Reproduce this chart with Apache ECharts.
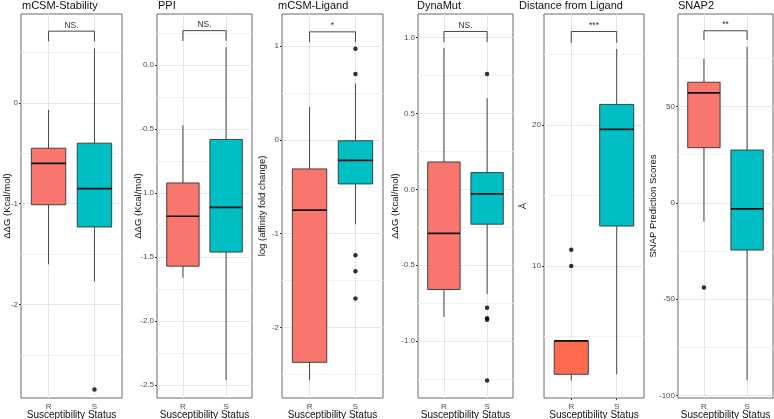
<!DOCTYPE html>
<html><head><meta charset="utf-8">
<script src="https://cdn.jsdelivr.net/npm/echarts@6/dist/echarts.min.js"></script>
<style>html,body{margin:0;padding:0;background:#fff}#c{width:774px;height:419px}</style>
</head><body><div id="c"></div>
<script>
const categories = ['R', 'S'];
const panelTitles = ['mCSM-Stability', 'PPI', 'mCSM-Ligand', 'DynaMut', 'Distance from Ligand', 'SNAP2'];
const yTitles = ['ΔΔG (Kcal/mol)', 'ΔΔG (Kcal/mol)', 'log (affinity fold change)', 'ΔΔG (Kcal/mol)', 'Å', 'SNAP Prediction Scores'];
const xTitle = 'Susceptibility Status';
const sigLabels = ['NS.', 'NS.', '*', 'NS.', '***', '**'];

// box statistics: [lower whisker, Q1, median, Q3, upper whisker]
const stabilityR = [-1.60, -1.01, -0.60, -0.45, -0.07];
const stabilityS = [-1.77, -1.23, -0.85, -0.40, 0.54];
const ppiR = [-1.66, -1.57, -1.18, -0.92, -0.47];
const ppiS = [-2.46, -1.46, -1.11, -0.58, 0.14];
const ligandR = [-2.56, -2.37, -0.75, -0.31, 0.35];
const ligandS = [-0.90, -0.47, -0.22, -0.01, 0.60];
const dynamutR = [-0.84, -0.66, -0.29, 0.18, 0.93];
const dynamutS = [-0.69, -0.23, -0.03, 0.11, 0.60];
const distanceR = [1.90, 2.34, 4.70, 4.70, 4.70];
const distanceS = [2.34, 12.83, 19.67, 21.44, 25.37];
const snapR = [-9.8, 28.6, 57.1, 62.6, 74.7];
const snapS = [-92.1, -24.5, -3.1, 27.4, 81.0];

// outliers per group
const stabilityOutR = [];
const stabilityOutS = [-2.84];
const ppiOutR = [];
const ppiOutS = [];
const ligandOutR = [];
const ligandOutS = [0.97, 0.70, -1.23, -1.40, -1.69];
const dynamutOutR = [];
const dynamutOutS = [0.76, -0.78, -0.85, -0.86, -1.26];
const distanceOutR = [11.16, 10.0];
const distanceOutS = [];
const snapOutR = [-44];
const snapOutS = [];

// significance brackets: bar level and foot level
const bracketTop = [0.71, 0.27, 1.15, 1.04, 26.6, 89.3];
const bracketFoot = [0.61, 0.19, 1.04, 0.97, 25.8, 84.5];

// axes
const yMin = [-2.925, -2.60, -2.75, -1.375, 0.66, -101.3];
const yMax = [0.88, 0.40, 1.34, 1.155, 27.84, 98.0];
const yTicks = [[-2, -1, 0], [-2.5, -2, -1.5, -1, -0.5, 0], [-2, -1, 0, 1], [-1, -0.5, 0, 0.5, 1], [10, 20], [-100, -50, 0, 50]];
const yMinorTicks = [[-2.5, -1.5, -0.5, 0.5], [-2.25, -1.75, -1.25, -0.75, -0.25, 0.25], [-2.5, -1.5, -0.5, 0.5], [-1.25, -0.75, -0.25, 0.25, 0.75], [5, 15, 25], [-75, -25, 25, 75]];
const yTickDecimals = [0, 1, 0, 1, 0, 0];

const boxesR = [stabilityR, ppiR, ligandR, dynamutR, distanceR, snapR];
const boxesS = [stabilityS, ppiS, ligandS, dynamutS, distanceS, snapS];
const outR = [stabilityOutR, ppiOutR, ligandOutR, dynamutOutR, distanceOutR, snapOutR];
const outS = [stabilityOutS, ppiOutS, ligandOutS, dynamutOutS, distanceOutS, snapOutS];

// layout & style
const gridLeft = [21, 157, 282, 418, 544, 678];
const gridWidth = [101, 95, 101, 95, 100, 95];
const titleLeft = [22, 158, 278, 417, 519, 678];
const yNameGap = [9, 14, 15, 18, 16, 20];
const fillR = ['#F8766D', '#F8766D', '#F8766D', '#F8766D', '#FF6B4F', '#F8766D'];
const fillS = '#00BFC4';
const FONT = 'Liberation Sans, Arial, sans-serif';

const chart = echarts.init(document.getElementById('c'), null, { renderer: 'canvas' });

function boxRenderer(colors) {
  return function (params, api) {
    const x = api.value(0);
    const half = api.size([0.75, 0])[0] / 2;
    const lo = api.coord([x, api.value(1)]);
    const q1 = api.coord([x, api.value(2)]);
    const med = api.coord([x, api.value(3)]);
    const q3 = api.coord([x, api.value(4)]);
    const hi = api.coord([x, api.value(5)]);
    const cx = q1[0];
    const stroke = '#333333';
    const children = [];
    if (hi[1] < q3[1] - 0.5) children.push({ type: 'line', shape: { x1: cx, y1: hi[1], x2: cx, y2: q3[1] }, style: { stroke: stroke, lineWidth: 0.9 } });
    if (lo[1] > q1[1] + 0.5) children.push({ type: 'line', shape: { x1: cx, y1: q1[1], x2: cx, y2: lo[1] }, style: { stroke: stroke, lineWidth: 0.9 } });
    children.push({ type: 'rect', shape: { x: cx - half, y: q3[1], width: half * 2, height: q1[1] - q3[1] }, style: { fill: colors[params.dataIndex], stroke: stroke, lineWidth: 0.9 } });
    children.push({ type: 'line', shape: { x1: cx - half, y1: med[1], x2: cx + half, y2: med[1] }, style: { stroke: '#111', lineWidth: 1.7 } });
    return { type: 'group', children: children };
  };
}

function bracketRenderer(label) {
  return function (params, api) {
    const a = api.coord([api.value(0), api.value(3)]);
    const b = api.coord([api.value(0), api.value(2)]);
    const c = api.coord([api.value(1), api.value(2)]);
    const d = api.coord([api.value(1), api.value(3)]);
    return {
      type: 'group',
      children: [
        { type: 'polyline', shape: { points: [a, b, c, d] }, style: { stroke: '#333', lineWidth: 0.9, fill: null } },
        { type: 'text', style: { text: label, x: (b[0] + c[0]) / 2, y: b[1] - 1.5, align: 'center', verticalAlign: 'bottom', fontSize: 8.5, fill: '#333', fontFamily: FONT } }
      ]
    };
  };
}

const grids = [], xAxes = [], yAxes = [], titles = [], series = [];
for (let i = 0; i < 6; i++) {
  grids.push({ left: gridLeft[i], width: gridWidth[i], top: 14, bottom: 21, show: true, backgroundColor: '#fff', borderColor: '#6a6a6a', borderWidth: 1, containLabel: false, outerBoundsMode: 'none' });
  titles.push({ text: panelTitles[i], left: titleLeft[i], top: 0, padding: 0, textStyle: { fontSize: 11, fontWeight: 'normal', color: '#111', fontFamily: FONT } });
  xAxes.push({
    type: 'value', gridIndex: i, min: 0.4, max: 2.6,
    axisLine: { show: false },
    axisTick: { show: true, customValues: [1, 2], length: 2, lineStyle: { color: '#333' } },
    axisLabel: { customValues: [1, 2], formatter: v => categories[Math.round(v) - 1], fontSize: 8, color: '#4d4d4d', margin: 5, fontFamily: FONT },
    splitLine: { show: false },
    name: xTitle, nameLocation: 'middle', nameGap: 12, nameMoveOverlap: false,
    nameTextStyle: { fontSize: 10, color: '#111', fontFamily: FONT }
  });
  const dec = yTickDecimals[i];
  yAxes.push({
    type: 'value', gridIndex: i, min: yMin[i], max: yMax[i],
    axisLine: { show: false },
    axisTick: { show: true, customValues: yTicks[i], length: 2, lineStyle: { color: '#333' } },
    axisLabel: { customValues: yTicks[i], formatter: v => v.toFixed(dec), fontSize: 8, color: '#4d4d4d', margin: 3, fontFamily: FONT },
    splitLine: { show: false },
    name: yTitles[i], nameLocation: 'middle', nameGap: yNameGap[i], nameRotate: 90, nameMoveOverlap: false,
    nameTextStyle: { fontSize: 9.5, color: '#111', fontFamily: FONT }
  });
  const gl = [];
  yMinorTicks[i].forEach(v => gl.push({ yAxis: v, lineStyle: { color: '#f3f3f3', width: 1, type: 'solid' } }));
  yTicks[i].forEach(v => gl.push({ yAxis: v, lineStyle: { color: '#e6e6e6', width: 1, type: 'solid' } }));
  [1, 2].forEach(v => gl.push({ xAxis: v, lineStyle: { color: '#e6e6e6', width: 1, type: 'solid' } }));
  series.push({
    type: 'line', xAxisIndex: i, yAxisIndex: i, data: [], z: 1, silent: true,
    markLine: { z: 1, silent: true, symbol: ['none', 'none'], label: { show: false }, animation: false, data: gl }
  });
  series.push({
    type: 'custom', xAxisIndex: i, yAxisIndex: i, z: 3, silent: true,
    renderItem: boxRenderer([fillR[i], fillS]),
    data: [[1].concat(boxesR[i]), [2].concat(boxesS[i])]
  });
  const pts = outR[i].map(v => [1, v]).concat(outS[i].map(v => [2, v]));
  series.push({
    type: 'scatter', xAxisIndex: i, yAxisIndex: i, z: 4, silent: true,
    symbolSize: 4.5, itemStyle: { color: '#000' }, data: pts
  });
  series.push({
    type: 'custom', xAxisIndex: i, yAxisIndex: i, z: 4, silent: true, clip: false,
    renderItem: bracketRenderer(sigLabels[i]),
    data: [[1, 2, bracketTop[i], bracketFoot[i]]]
  });
}

chart.setOption({
  animation: false,
  backgroundColor: '#fff',
  textStyle: { fontFamily: FONT },
  title: titles, grid: grids, xAxis: xAxes, yAxis: yAxes, series: series
});
</script></body></html>
